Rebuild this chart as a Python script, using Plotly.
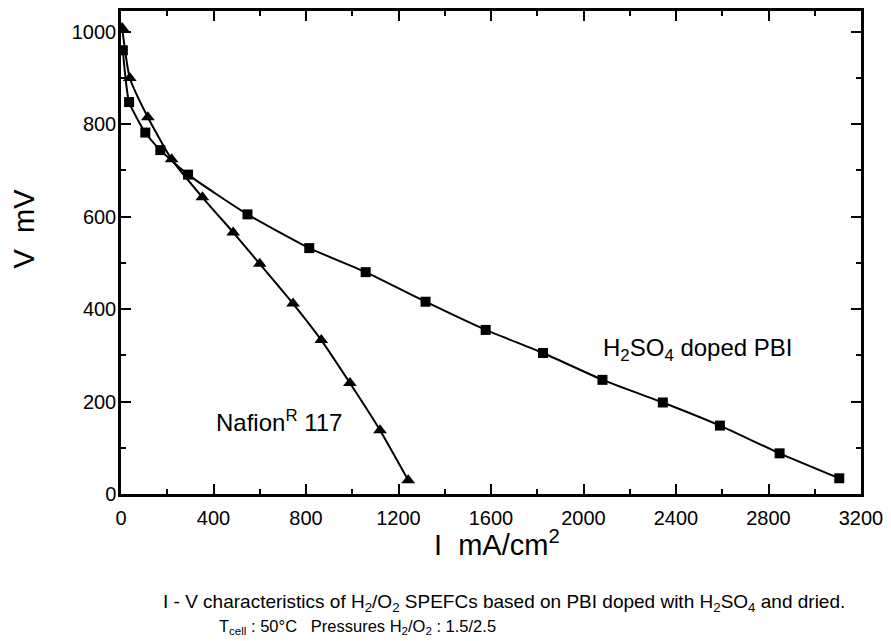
import plotly.graph_objects as go

# ---- data ----
pbi_i = [8, 35, 105, 170, 290, 547, 814, 1058, 1317, 1577, 1825, 2082, 2343, 2590, 2848, 3106]
pbi_v = [960, 848, 782, 744, 691, 605, 532, 480, 416, 355, 305, 247, 198, 148, 88, 34]

naf_i = [5, 38, 116, 219, 352, 485, 600, 744, 866, 990, 1120, 1242]
naf_v = [1008, 900, 815, 724, 642, 566, 498, 412, 333, 240, 138, 30]

x_ticks = [0, 400, 800, 1200, 1600, 2000, 2400, 2800, 3200]
y_ticks = [0, 200, 400, 600, 800, 1000]

FONT = "Liberation Sans, Arial, sans-serif"

W, H = 891, 641
ML, MR, MT, MB = 121, 24, 8, 147
PW, PH = W - ML - MR, H - MT - MB


def px(x):
    return (x - ML) / PW


def py(y):
    return (H - MB - y) / PH


fig = go.Figure()
fig.add_trace(go.Scatter(
    x=pbi_i, y=pbi_v, mode="lines+markers",
    line=dict(color="black", width=2, shape="spline", smoothing=0.5),
    marker=dict(symbol="square", size=10, color="black"),
    showlegend=False))
fig.add_trace(go.Scatter(
    x=naf_i, y=naf_v, mode="lines+markers",
    line=dict(color="black", width=2, shape="spline", smoothing=0.5),
    marker=dict(symbol="triangle-up", size=12, color="black"),
    showlegend=False))

axis_common = dict(
    showline=True, linecolor="black", linewidth=2.5, mirror="ticks",
    ticks="inside", ticklen=10, tickwidth=2, tickcolor="black",
    showgrid=False, zeroline=False,
    tickfont=dict(family=FONT, size=20, color="black"),
)

fig.update_xaxes(range=[0, 3200], tickvals=x_ticks, ticklabelstandoff=4,
                 minor=dict(ticks="inside", ticklen=5, tickwidth=2, dtick=200, tickcolor="black"),
                 **axis_common)
fig.update_yaxes(range=[0, 1045], tickvals=y_ticks, ticklabelstandoff=-2,
                 minor=dict(ticks="inside", ticklen=5, tickwidth=2, dtick=100, tickcolor="black"),
                 **axis_common)


def label(x, y, text, size, xanchor="center", angle=0):
    return dict(x=px(x), y=py(y), xref="paper", yref="paper",
                xanchor=xanchor, yanchor="middle", textangle=angle,
                text=text, showarrow=False,
                font=dict(family=FONT, size=size, color="black"))


ann = [
    label(500, 543, "I  mA/cm<sup>2</sup>", 29),
    label(23, 227, "V  mV", 29, angle=-90),
    label(280, 421, "Nafion<sup>R</sup> 117", 24),
    label(702, 349, "H<sub>2</sub>SO<sub>4</sub> doped PBI", 24),
    label(161, 604, "I - V characteristics of H<sub>2</sub>/O<sub>2</sub> SPEFCs based on PBI doped with H<sub>2</sub>SO<sub>4</sub> and dried.", 19, xanchor="left"),
    label(218, 628, "T<sub>cell</sub> : 50°C   Pressures H<sub>2</sub>/O<sub>2</sub> : 1.5/2.5", 16.5, xanchor="left"),
]

fig.update_layout(
    width=W, height=H,
    margin=dict(l=ML, r=MR, t=MT, b=MB),
    paper_bgcolor="white", plot_bgcolor="white",
    annotations=ann,
)

fig.write_html("out.html")
